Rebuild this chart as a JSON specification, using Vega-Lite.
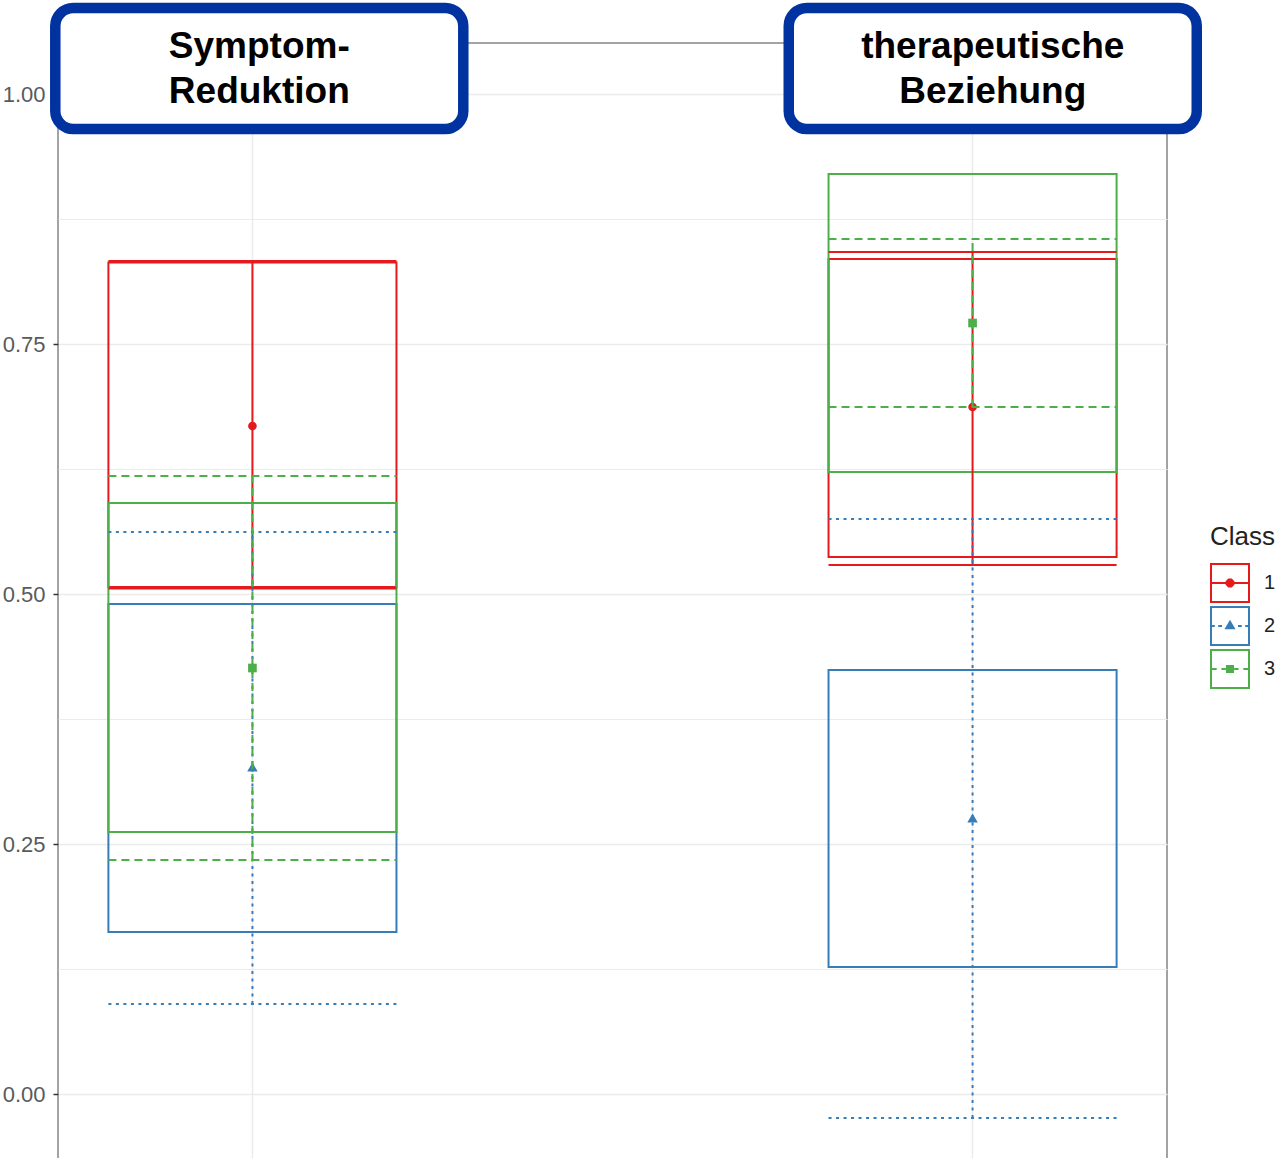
{
  "$schema": "https://vega.github.io/schema/vega-lite/v6.json",
  "autosize": "none",
  "padding": {"left": 58, "top": 43, "right": 117, "bottom": 0},
  "width": 1109,
  "height": 1126,
  "background": "white",
  "config": {
    "view": {"stroke": "#A3A3A3", "strokeWidth": 2},
    "font": "Liberation Sans"
  },
  "datasets": {
    "stats": [
      {"cat": "Symptom-Reduktion", "class": "1", "box_lo": 0.507, "box_hi": 0.8315, "wh_lo": 0.5055, "wh_hi": 0.833, "mean": 0.668},
      {"cat": "Symptom-Reduktion", "class": "2", "box_lo": 0.162, "box_hi": 0.490, "wh_lo": 0.090, "wh_hi": 0.562, "mean": 0.327},
      {"cat": "Symptom-Reduktion", "class": "3", "box_lo": 0.262, "box_hi": 0.591, "wh_lo": 0.234, "wh_hi": 0.618, "mean": 0.426},
      {"cat": "therapeutische Beziehung", "class": "1", "box_lo": 0.537, "box_hi": 0.835, "wh_lo": 0.529, "wh_hi": 0.842, "mean": 0.687},
      {"cat": "therapeutische Beziehung", "class": "2", "box_lo": 0.127, "box_hi": 0.424, "wh_lo": -0.024, "wh_hi": 0.575, "mean": 0.276},
      {"cat": "therapeutische Beziehung", "class": "3", "box_lo": 0.622, "box_hi": 0.920, "wh_lo": 0.687, "wh_hi": 0.855, "mean": 0.771}
    ],
    "strips": [
      {"cat": "Symptom-Reduktion", "label": "Symptom-\nReduktion"},
      {"cat": "therapeutische Beziehung", "label": "therapeutische\nBeziehung"}
    ]
  },
  "layer": [
    {
      "data": {"name": "stats"},
      "encoding": {
        "x": {
          "field": "cat", "type": "nominal",
          "scale": {"domain": ["Symptom-Reduktion", "therapeutische Beziehung"], "paddingInner": 0.6, "paddingOuter": 0.07},
          "axis": {"labels": false, "ticks": false, "domain": false, "title": null, "grid": true, "gridColor": "#EBEBEB", "gridWidth": 1.5, "bandPosition": 0.5, "zindex": 0}
        }
      },
      "layer": [
        {
          "mark": {"type": "rect", "fill": "transparent", "strokeWidth": 2},
          "encoding": {
            "y": {
              "field": "box_lo", "type": "quantitative",
              "scale": {"domain": [-0.075, 1.051], "nice": false, "zero": false},
              "axis": {
                "title": null,
                "zindex": 0,
                "values": [0, 0.125, 0.25, 0.375, 0.5, 0.625, 0.75, 0.875, 1],
                "labelExpr": "(datum.value*4)%1==0 ? format(datum.value, '.2f') : ''",
                "labelFontSize": 22,
                "labelColor": "#5A5A5A",
                "labelPadding": 8,
                "tickColor": "#333333",
                "tickSize": 5,
                "tickWidth": 1.5,
                "tickOpacity": {"condition": {"test": "(datum.value*4)%1!=0", "value": 0}, "value": 1},
                "domain": false,
                "gridColor": "#EBEBEB",
                "gridWidth": {"condition": {"test": "(datum.value*4)%1!=0", "value": 1}, "value": 1.5}
              }
            },
            "y2": {"field": "box_hi"},
            "stroke": {
              "field": "class", "type": "nominal",
              "scale": {"domain": ["1", "2", "3"], "range": ["#E41A1C", "#377EB8", "#4DAF4A"]},
              "legend": {
                "title": "Class",
                "orient": "none",
                "legendX": 1152,
                "legendY": 481,
                "padding": 0,
                "titleFontSize": 26,
                "titleFontWeight": "normal",
                "titleColor": "#222222",
                "titlePadding": 13,
                "labelFontSize": 20,
                "labelColor": "#222222",
                "labelOffset": 14,
                "rowPadding": -3,
                "symbolSize": 1444,
                "symbolStrokeWidth": 2,
                "symbolType": {"expr": "datum.value=='1' ? 'M-1,-1H1V1H-1Z M-1,0H1 M-0.18,-0.07L-0.07,-0.18L0.07,-0.18L0.18,-0.07L0.18,0.07L0.07,0.18L-0.07,0.18L-0.18,0.07Z M-0.08,-0.03L-0.03,-0.08L0.03,-0.08L0.08,-0.03L0.08,0.03L0.03,0.08L-0.03,0.08L-0.08,0.03Z' : datum.value=='2' ? 'M-1,-1H1V1H-1Z M-1,0H-0.8 M-0.62,0H-0.42 M0.42,0H0.62 M0.8,0H1 M0,-0.22L0.2,0.12L-0.2,0.12Z M0,-0.08L0.08,0.06L-0.08,0.06Z' : 'M-1,-1H1V1H-1Z M-1,0H-0.7 M-0.45,0H-0.22 M0.22,0H0.45 M0.7,0H1 M-0.16,-0.16H0.16V0.16H-0.16Z M-0.06,-0.06H0.06V0.06H-0.06Z'"},
                "encode": {
                  "symbols": {
                    "fill": {"value": "transparent"}
                  }
                }
              }
            }
          }
        },
        {
          "transform": [{"filter": "datum['class'] == '1'"}],
          "layer": [
            {"mark": {"type": "rule", "strokeWidth": 2, "color": "#E41A1C"},
             "encoding": {"x": {"field": "cat", "type": "nominal", "bandPosition": 0}, "x2": {"field": "cat", "bandPosition": 1}, "y": {"field": "wh_lo", "type": "quantitative"}}},
            {"mark": {"type": "rule", "strokeWidth": 2, "color": "#E41A1C"},
             "encoding": {"x": {"field": "cat", "type": "nominal", "bandPosition": 0}, "x2": {"field": "cat", "bandPosition": 1}, "y": {"field": "wh_hi", "type": "quantitative"}}},
            {"mark": {"type": "rule", "strokeWidth": 2, "color": "#E41A1C"},
             "encoding": {"y": {"field": "wh_lo", "type": "quantitative"}, "y2": {"field": "wh_hi"}}},
            {"mark": {"type": "point", "filled": true, "shape": "circle", "size": 75, "opacity": 1, "color": "#E41A1C"},
             "encoding": {"y": {"field": "mean", "type": "quantitative"}}}
          ]
        },
        {
          "transform": [{"filter": "datum['class'] == '2'"}],
          "layer": [
            {"mark": {"type": "rule", "strokeWidth": 2, "color": "#377EB8", "strokeDash": [3, 4.5]},
             "encoding": {"x": {"field": "cat", "type": "nominal", "bandPosition": 0}, "x2": {"field": "cat", "bandPosition": 1}, "y": {"field": "wh_lo", "type": "quantitative"}}},
            {"mark": {"type": "rule", "strokeWidth": 2, "color": "#377EB8", "strokeDash": [3, 4.5]},
             "encoding": {"x": {"field": "cat", "type": "nominal", "bandPosition": 0}, "x2": {"field": "cat", "bandPosition": 1}, "y": {"field": "wh_hi", "type": "quantitative"}}},
            {"mark": {"type": "rule", "strokeWidth": 2, "color": "#377EB8", "strokeDash": [3, 4.5]},
             "encoding": {"y": {"field": "wh_lo", "type": "quantitative"}, "y2": {"field": "wh_hi"}}},
            {"mark": {"type": "point", "filled": true, "shape": "triangle-up", "size": 110, "opacity": 1, "color": "#377EB8"},
             "encoding": {"y": {"field": "mean", "type": "quantitative"}}}
          ]
        },
        {
          "transform": [{"filter": "datum['class'] == '3'"}],
          "layer": [
            {"mark": {"type": "rule", "strokeWidth": 2, "color": "#4DAF4A", "strokeDash": [8, 5]},
             "encoding": {"x": {"field": "cat", "type": "nominal", "bandPosition": 0}, "x2": {"field": "cat", "bandPosition": 1}, "y": {"field": "wh_lo", "type": "quantitative"}}},
            {"mark": {"type": "rule", "strokeWidth": 2, "color": "#4DAF4A", "strokeDash": [8, 5]},
             "encoding": {"x": {"field": "cat", "type": "nominal", "bandPosition": 0}, "x2": {"field": "cat", "bandPosition": 1}, "y": {"field": "wh_hi", "type": "quantitative"}}},
            {"mark": {"type": "rule", "strokeWidth": 2, "color": "#4DAF4A", "strokeDash": [8, 5]},
             "encoding": {"y": {"field": "wh_lo", "type": "quantitative"}, "y2": {"field": "wh_hi"}}},
            {"mark": {"type": "point", "filled": true, "shape": "square", "size": 75, "opacity": 1, "color": "#4DAF4A"},
             "encoding": {"y": {"field": "mean", "type": "quantitative"}}}
          ]
        }
      ]
    },
    {
      "data": {"name": "strips"},
      "encoding": {
        "x": {
          "field": "cat", "type": "nominal",
          "scale": {"type": "point", "domain": ["Symptom-Reduktion", "therapeutische Beziehung"], "padding": 0.256, "align": 0.536},
          "axis": null
        }
      },
      "layer": [
        {
          "mark": {"type": "rect", "fill": "white", "stroke": "#0033A0", "strokeWidth": 10.5, "cornerRadius": 18, "xOffset": -204, "x2Offset": 204},
          "encoding": {
            "x2": {"field": "cat"},
            "y": {"datum": 1.086},
            "y2": {"datum": 0.965}
          }
        },
        {
          "mark": {"type": "text", "font": "Liberation Sans", "fontSize": 37, "fontWeight": "bold", "lineBreak": "\n", "lineHeight": 45, "baseline": "middle", "align": "center", "color": "black"},
          "encoding": {
            "y": {"datum": 1.0475},
            "text": {"field": "label"}
          }
        }
      ]
    }
  ],
  "resolve": {"scale": {"x": "independent"}, "axis": {"x": "independent"}}
}
